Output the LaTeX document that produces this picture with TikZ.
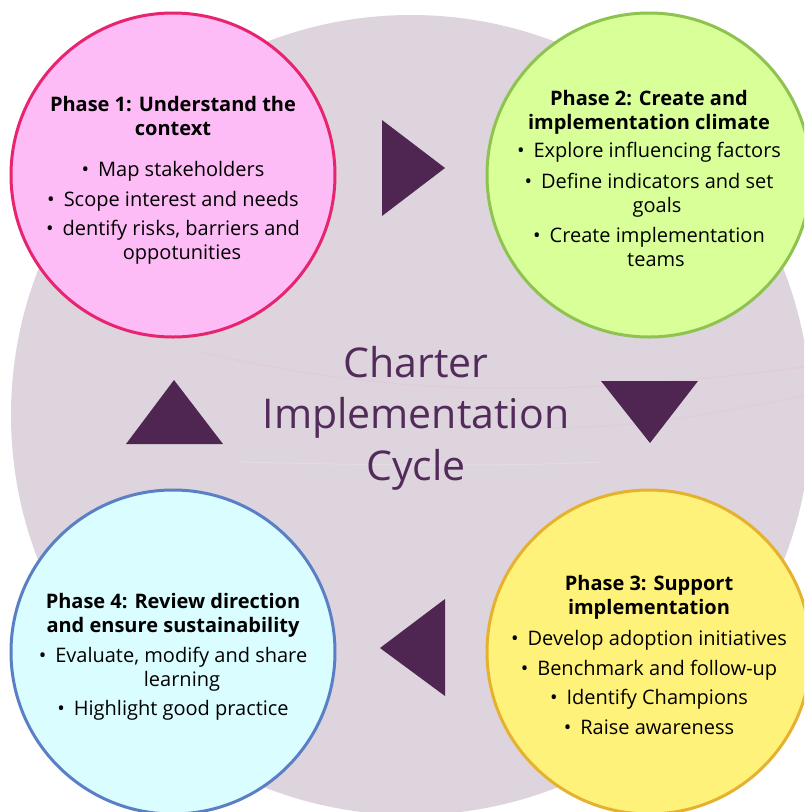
\documentclass[tikz,border=0pt]{standalone}
\usepackage{fontspec}
\setmainfont{Open Sans}
\definecolor{bgc}{HTML}{DDD4DD}
\definecolor{pinkfill}{HTML}{FDBCF5}
\definecolor{pinkline}{HTML}{E8236F}
\definecolor{greenfill}{HTML}{D9FF99}
\definecolor{greenline}{HTML}{8DC34E}
\definecolor{yelfill}{HTML}{FFF27A}
\definecolor{yelline}{HTML}{E6B12F}
\definecolor{bluefill}{HTML}{DAFDFF}
\definecolor{blueline}{HTML}{5B7FC4}
\definecolor{tri}{HTML}{4F2551}
\definecolor{ctext}{HTML}{532B5B}
\definecolor{streak}{HTML}{E6C6D6}
\tikzset{
  phasecircle/.style={circle, line width=3pt, minimum size=324pt, inner sep=0pt},
  phasetext/.style={anchor=base, inner sep=0pt, font=\fontsize{20}{24}\selectfont, text=black},
  arrowtri/.style={fill=tri},
}
\newcommand\bul{\textbullet\hspace{0.45em}}
\begin{document}
\begin{tikzpicture}[x=1pt,y=-1pt]
\useasboundingbox (0,0) rectangle (804,812);
\clip (0,0) rectangle (804,812);
\fill[white] (0,0) rectangle (804,812);
\node[circle, fill=bgc, minimum size=800pt, inner sep=0pt] (bg) at (411,415) {};
\begin{scope}
  \clip (411,415) circle (400);
  \draw[streak, line width=1pt, opacity=0.6] (200,352) .. controls (400,398) and (560,398) .. (812,366);
  \draw[streak, line width=1pt, opacity=0.5] (540,428) .. controls (650,428) and (720,412) .. (812,394);
  \draw[white, line width=1pt, opacity=0.2] (240,462) .. controls (400,466) and (520,466) .. (600,462);
\end{scope}

\node[phasecircle, fill=pinkfill, draw=pinkline] (p1) at (173,175) {};
\node[phasecircle, fill=greenfill, draw=greenline] (p2) at (649,175) {};
\node[phasecircle, fill=yelfill, draw=yelline] (p3) at (649,652) {};
\node[phasecircle, fill=bluefill, draw=blueline] (p4) at (173,652) {};

\fill[arrowtri] (382,120) -- (382,216) -- (445,168) -- cycle;
\fill[arrowtri] (601,381) -- (698,381) -- (650,443) -- cycle;
\fill[arrowtri] (445,599) -- (445,696) -- (380,648) -- cycle;
\fill[arrowtri] (126,444) -- (223,444) -- (174,380) -- cycle;

\node[anchor=base, inner sep=0pt, font=\fontsize{41}{51.5}\selectfont, text=ctext] (title) at (416,377)
  {\begin{tabular}[t]{@{}c@{}}Charter\\Implementation\\Cycle\end{tabular}};

\node[phasetext] (t1) at (173,111) {\begin{tabular}[t]{@{}c@{}}
\textbf{Phase 1: Understand the}\\
\textbf{context}\\[17pt]
\bul Map stakeholders\\[6pt]
\bul Scope interest and needs\\[5pt]
\bul dentify risks, barriers and\\
\hspace*{18pt}oppotunities
\end{tabular}};

\node[phasetext] (t2) at (649,105) {\begin{tabular}[t]{@{}c@{}}
\textbf{Phase 2: Create and}\\
\textbf{implementation climate}\\[4pt]
\bul Explore influencing factors\\[7pt]
\bul Define indicators and set\\
\hspace*{16pt}goals\\[6pt]
\bul Create implementation\\
\hspace*{14pt}teams
\end{tabular}};

\node[phasetext] (t3) at (649,590) {\begin{tabular}[t]{@{}c@{}}
\textbf{Phase 3: Support}\\
\textbf{implementation}\\[7pt]
\bul Develop adoption initiatives\\[6pt]
\bul Benchmark and follow-up\\[5pt]
\bul Identify Champions\\[6pt]
\bul Raise awareness
\end{tabular}};

\node[phasetext] (t4) at (173,608) {\begin{tabular}[t]{@{}c@{}}
\textbf{Phase 4: Review direction}\\
\textbf{and ensure sustainability}\\[6pt]
\bul Evaluate, modify and share\\
\hspace*{18pt}learning\\[5pt]
\bul Highlight good practice
\end{tabular}};
\end{tikzpicture}
\end{document}
